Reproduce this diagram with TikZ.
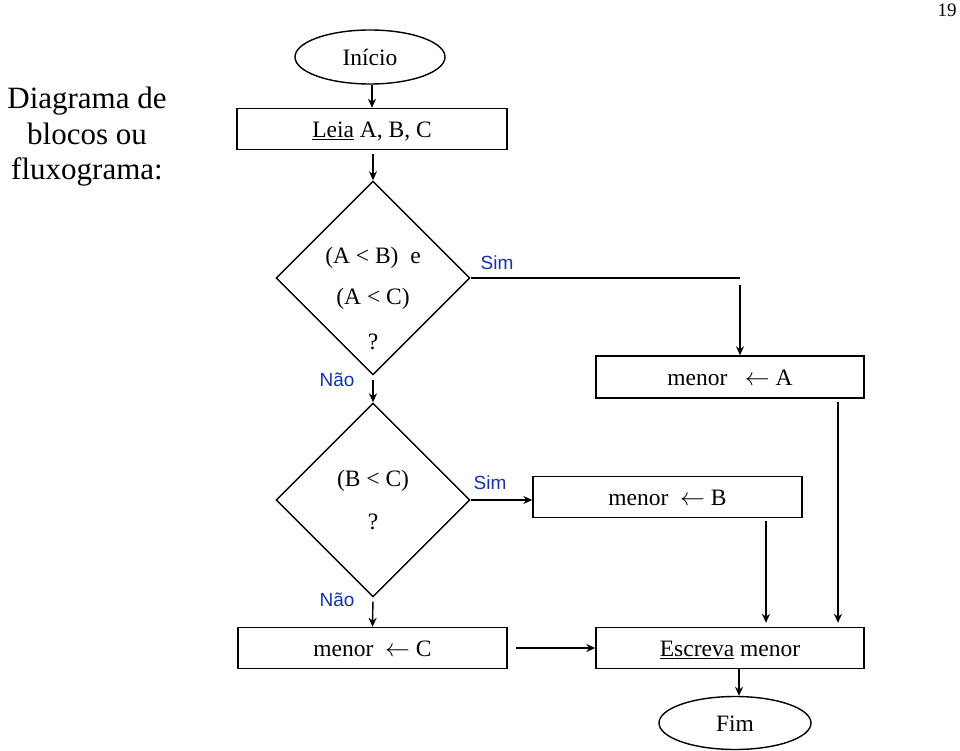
\documentclass[tikz,border=0pt]{standalone}
\usepackage{fontspec}
\setmainfont{Liberation Serif}
\newfontfamily\arialfont{Liberation Sans}
\usetikzlibrary{shapes.geometric,arrows.meta}
\definecolor{labblue}{RGB}{20,50,170}
\begin{document}
\begin{tikzpicture}[x=1pt,y=-1pt,
  line width=1.4pt,
  txt/.style={font=\fontsize{23.5}{27}\selectfont, inner sep=0pt},
  procbox/.style={draw, line width=1.4pt, minimum height=41pt, inner sep=0pt, text height=19pt, text depth=2pt, font=\fontsize{23.5}{27}\selectfont},
  termnode/.style={draw, ellipse, line width=1.4pt, inner sep=0pt, text height=19pt, text depth=2pt, font=\fontsize{23.5}{27}\selectfont},
  decnode/.style={draw, diamond, line width=1.4pt, inner sep=0pt, minimum width=194pt, minimum height=194pt},
  yesno/.style={text=labblue, font=\arialfont\fontsize{19}{22}\selectfont, inner sep=0pt},
  arr/.style={-{Stealth[length=9pt,width=8pt]}, line width=1.4pt}]
\useasboundingbox (0,0) rectangle (960,751);

% side title and page number
\node[align=center, font=\fontsize{31}{35.5}\selectfont, inner sep=0pt] (title) at (87,137) {Diagrama de\\blocos ou\\fluxograma:};
\node[font=\fontsize{19}{22}\selectfont, inner sep=0pt] (pg) at (947,10) {19};

% nodes
\node[termnode, minimum width=150pt, minimum height=54pt] (inicio) at (370,57) {Início};
\node[procbox, minimum width=270pt] (leia) at (372,129) {\underline{Leia} A, B, C};
\node[decnode] (d1) at (373,278) {};
\node[txt] (t1a) at (373,258) {(A < B)~~e};
\node[txt] (t1b) at (373,299) {(A < C)};
\node[txt] (t1c) at (373,342) {?};
\node[procbox, minimum width=268pt, minimum height=42pt] (ma) at (730,377) {menor ~~$\leftarrow$ A};
\node[decnode] (d2) at (373,500) {};
\node[txt] (t2a) at (373,481) {(B < C)};
\node[txt] (t2b) at (373,522) {?};
\node[procbox, minimum width=269pt] (mb) at (667.5,497) {menor ~$\leftarrow$ B};
\node[procbox, minimum width=269pt] (mc) at (372.5,648) {menor ~$\leftarrow$ C};
\node[procbox, minimum width=268pt] (esc) at (730,648) {\underline{Escreva} menor};
\node[termnode, minimum width=152pt, minimum height=53pt] (fim) at (735,723) {Fim};

% labels
\node[yesno] (sim1) at (497,263) {Sim};
\node[yesno] (nao1) at (337,380) {Não};
\node[yesno] (sim2) at (490,483) {Sim};
\node[yesno] (nao2) at (337,600) {Não};

% helper coordinates
\coordinate (s1a) at (740,278);
\coordinate (s1b) at (740,285);
\coordinate (bx) at (766,521);
\coordinate (ax) at (838,402);
\coordinate (cx) at (516,648);
\coordinate (fx) at (739,669);

% connectors
\draw[arr] (inicio.south -| leia.north) -- (leia.north);
\draw[arr, shorten <=4pt] (leia.south -| d1.north) -- (d1.north);
\draw (d1.east) -- (s1a);
\draw[arr] (s1b) -- (s1b |- ma.north);
\draw[arr, shorten <=4pt] (d1.south) -- (d2.north);
\draw[arr] (d2.east) -- (d2.east -| mb.west);
\draw[arr, shorten <=4pt] (d2.south) -- (mc.north);
\draw[arr, shorten >=4pt] (bx) -- (bx |- esc.north);
\draw[arr, shorten >=4pt] (ax) -- (ax |- esc.north);
\draw[arr] (cx) -- (esc.west);
\draw[arr] (fx) -- (fx |- fim.north);
\end{tikzpicture}
\end{document}
